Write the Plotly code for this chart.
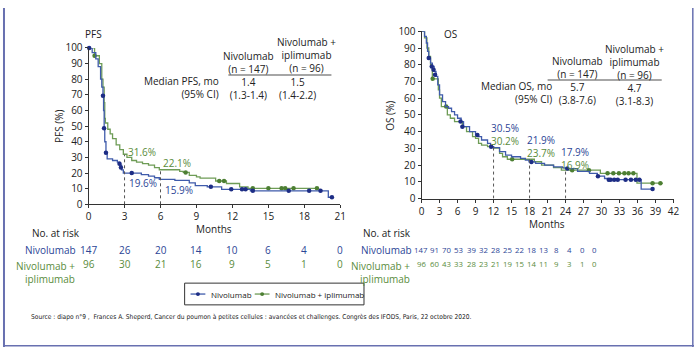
import plotly.graph_objects as go

# ---------------- data ----------------
# PFS, Nivolumab (step curve)
pfs_nivo_t = [0, 0.3, 0.6, 0.8, 1.0, 1.1, 1.2, 1.25, 1.3, 1.35, 1.45, 1.55, 2.0, 2.4, 2.6, 2.75, 2.9, 4.4, 5.0, 5.5, 5.9, 7.2, 8.4, 8.9, 9.9, 11.1, 13.5, 20.0, 20.4]
pfs_nivo_s = [100, 97, 93, 88, 80, 75, 70, 60, 48, 40, 33, 29, 28, 27, 25, 22, 20.0, 19.0, 18.0, 17.0, 15.9, 15.3, 13.7, 12.0, 11.2, 9.6, 8.6, 4.5, 4.5]
pfs_nivo_cens_t = [0.05, 1.2, 1.29, 1.45, 2.58, 2.7, 3.6, 10.2, 11.9, 12.8, 13.1, 13.7, 16.7, 18.4, 19.35, 20.3]
pfs_nivo_cens_s = [100, 69.4, 48.6, 33, 26, 23.5, 20.0, 11.2, 9.6, 9.6, 9.6, 8.6, 8.6, 8.6, 8.6, 4.5]

# PFS, Nivolumab + ipilimumab
pfs_combo_t = [0, 0.5, 0.9, 1.1, 1.2, 1.3, 1.35, 1.4, 1.6, 1.8, 2.0, 2.3, 2.6, 2.9, 3.2, 3.6, 4.0, 4.5, 5.0, 5.5, 5.9, 7.6, 7.9, 8.4, 9.0, 9.3, 10.6, 11.5, 12.6, 13.3, 19.2]
pfs_combo_s = [100, 95, 90, 80, 75, 65, 55, 52, 48, 45, 42, 38, 35, 32, 30, 28, 27, 26, 25, 23.5, 22.1, 21, 20.4, 18.5, 17.5, 16.7, 14.9, 13.3, 11.2, 10.2, 10.2]
pfs_combo_cens_t = [0.5, 8.1, 10.9, 11.3, 13.7, 15.0, 16.1, 16.4, 17.1, 19.05]
pfs_combo_cens_s = [95, 20.4, 14.9, 14.9, 10.2, 10.2, 10.2, 10.2, 10.2, 10.2]

# OS, Nivolumab
os_nivo_t = [0, 0.5, 0.8, 1.0, 1.2, 1.5, 1.8, 2.1, 2.4, 2.7, 3.0, 3.5, 4.0, 4.5, 5.0, 5.5, 6.0, 6.6, 7.0, 8.0, 9.0, 9.5, 10.0, 11.0, 11.5, 12.0, 13.0, 14.0, 15.0, 16.5, 17.3, 17.9, 19.0, 20.5, 22.0, 23.5, 24.0, 26.0, 28.0, 29.3, 30.5, 31.0, 36.6, 38.7]
os_nivo_s = [100, 97, 93, 88, 84, 81, 79, 76, 73, 68, 62, 58, 55, 54, 52, 50, 48, 46, 43, 40, 38, 37, 35, 33, 31, 30.5, 28, 26, 25, 24, 23, 21.9, 21, 20, 19, 18.3, 17.9, 16.3, 15, 13.4, 12, 11.3, 5.7, 5.7]
os_nivo_cens_t = [1.2, 1.7, 2.0, 2.25, 6.5, 6.8, 9.3, 11.6, 18.3, 24.3, 29.4, 31.2, 31.5, 32.1, 32.7, 34.0, 34.9, 35.7, 36.3, 38.5]
os_nivo_cens_s = [84, 79, 77, 74, 46, 43, 38, 31, 21.9, 17.9, 13.4, 11.3, 11.3, 11.3, 11.3, 11.3, 11.3, 11.3, 11.3, 5.7]

# OS, Nivolumab + ipilimumab
os_combo_t = [0, 0.5, 0.9, 1.2, 1.5, 1.8, 2.8, 3.0, 3.3, 4.3, 4.8, 5.5, 6.8, 7.5, 8.5, 9.0, 9.5, 10.0, 11.0, 12.0, 13.0, 13.5, 14.3, 18.8, 20.0, 22.0, 23.3, 29.8, 35.9, 40.2]
os_combo_s = [100, 96, 90, 85, 80, 71.6, 65, 60, 55, 50, 48, 46, 43, 40, 37, 36, 33, 32, 31, 30.2, 27, 25, 23.5, 22, 20, 18.5, 17.0, 15.1, 9.2, 9.2]
os_combo_cens_t = [1.85, 4.1, 15.1, 25.1, 27.9, 31.0, 31.96, 32.9, 33.8, 34.5, 35.3, 38.5, 39.8]
os_combo_cens_s = [71.6, 55, 23.5, 17.0, 17.0, 15.1, 15.1, 15.1, 15.1, 15.1, 15.1, 9.2, 9.2]

# landmarks
pfs_land_t = [3, 6]
pfs_land_nivo = [19.6, 15.9]
pfs_land_combo = [31.6, 22.1]
os_land_t = [12, 18, 24]
os_land_nivo = [30.5, 21.9, 17.9]
os_land_combo = [30.2, 23.7, 16.9]

# numbers at risk
pfs_risk_months = [0, 3, 6, 9, 12, 15, 18, 21]
pfs_risk_nivo = [147, 26, 20, 14, 10, 6, 4, 0]
pfs_risk_combo = [96, 30, 21, 16, 9, 5, 1, 0]
os_risk_nivo = [147, 91, 70, 53, 39, 32, 28, 25, 22, 18, 13, 8, 4, 0, 0]
os_risk_combo = [96, 60, 43, 33, 28, 23, 21, 19, 15, 14, 11, 9, 3, 1, 0]

names = ["Nivolumab", "Nivolumab + iplimumab"]

# ---------------- style ----------------
W, H = 700, 354
FONT = "Open Sans"
BLUE_LINE = "#3f5bab"
BLUE_MK = "#1d2d85"
BLUE_TXT = "#2c4596"
GREEN_LINE = "#6e9c56"
GREEN_MK = "#4d7f33"
GREEN_TXT = "#5a8c3c"
TXT = "#222222"


def px(x):
    return x / W


def py(y):
    return 1 - y / H


fig = go.Figure()


def add_km(t, s, ct, cs, line_col, mk_col, xa, ya):
    fig.add_trace(go.Scatter(x=t, y=s, mode="lines", line=dict(color=line_col, width=1.3, shape="hv"),
                             xaxis=xa, yaxis=ya, showlegend=False, hoverinfo="skip"))
    fig.add_trace(go.Scatter(x=ct, y=cs, mode="markers", marker=dict(color=mk_col, size=4.5),
                             xaxis=xa, yaxis=ya, showlegend=False, hoverinfo="skip", cliponaxis=False))


add_km(pfs_combo_t, pfs_combo_s, pfs_combo_cens_t, pfs_combo_cens_s, GREEN_LINE, GREEN_MK, "x", "y")
add_km(pfs_nivo_t, pfs_nivo_s, pfs_nivo_cens_t, pfs_nivo_cens_s, BLUE_LINE, BLUE_MK, "x", "y")
add_km(os_combo_t, os_combo_s, os_combo_cens_t, os_combo_cens_s, GREEN_LINE, GREEN_MK, "x2", "y2")
add_km(os_nivo_t, os_nivo_s, os_nivo_cens_t, os_nivo_cens_s, BLUE_LINE, BLUE_MK, "x2", "y2")

axis_common = dict(showgrid=False, zeroline=False, showline=True, linecolor="#333333", linewidth=1,
                   ticks="outside", ticklen=3, tickcolor="#333333",
                   tickfont=dict(family=FONT, size=10, color=TXT))

fig.update_layout(
    width=W, height=H, margin=dict(l=0, r=0, t=0, b=0),
    paper_bgcolor="white", plot_bgcolor="white", showlegend=False,
    font=dict(family=FONT, size=10, color=TXT),
    xaxis=dict(domain=[px(86.7), px(341.7)], range=[0, 21], tickvals=list(range(0, 22, 3)), anchor="y", **axis_common),
    yaxis=dict(domain=[py(205), py(41.7)], range=[0, 100], tickvals=list(range(0, 101, 10)), anchor="x", **axis_common),
    xaxis2=dict(domain=[px(424), px(679.3)], range=[0, 42], tickvals=list(range(0, 43, 3)), anchor="y2", **axis_common),
    yaxis2=dict(domain=[py(199), py(24.3)], range=[0, 100], tickvals=list(range(0, 101, 10)), anchor="x2", **axis_common),
)

shapes = []
# dashed landmark lines
for t, a, b in zip(pfs_land_t, pfs_land_nivo, pfs_land_combo):
    shapes.append(dict(type="line", xref="x", yref="y", x0=t, x1=t, y0=0, y1=max(a, b),
                       line=dict(color="#555555", width=1, dash="dot")))
for t, a, b in zip(os_land_t, os_land_nivo, os_land_combo):
    shapes.append(dict(type="line", xref="x2", yref="y2", x0=t, x1=t, y0=0, y1=max(a, b),
                       line=dict(color="#555555", width=1, dash="dot")))
# table rules
shapes.append(dict(type="line", xref="paper", yref="paper", x0=px(228.3), x1=px(332.7), y0=py(70), y1=py(70),
                   line=dict(color="#888888", width=1.5)))
shapes.append(dict(type="line", xref="paper", yref="paper", x0=px(551.7), x1=px(667.3), y0=py(75.3), y1=py(75.3),
                   line=dict(color="#888888", width=1.5)))
# legend box (manual)
shapes.append(dict(type="rect", xref="paper", yref="paper", x0=px(184), x1=px(365.7), y0=py(310), y1=py(287.3),
                   line=dict(color="#333333", width=1), fillcolor="white"))
LEG_Y = 298.7
for (x0, x1, lc, mc) in [(190, 205, BLUE_LINE, BLUE_MK), (255, 270, GREEN_LINE, GREEN_MK)]:
    shapes.append(dict(type="line", xref="paper", yref="paper", x0=px(x0), x1=px(x1), y0=py(LEG_Y), y1=py(LEG_Y),
                       line=dict(color=lc, width=1.3)))
    cx = (x0 + x1) / 2
    shapes.append(dict(type="circle", xref="paper", yref="paper", x0=px(cx - 2), x1=px(cx + 2),
                       y0=py(LEG_Y + 2), y1=py(LEG_Y - 2), line=dict(color=mc, width=0), fillcolor=mc))
# frame
FR = "#6870b0"
shapes.append(dict(type="line", xref="paper", yref="paper", x0=px(1), x1=px(1), y0=0, y1=1, line=dict(color=FR, width=2)))
shapes.append(dict(type="line", xref="paper", yref="paper", x0=px(698.8), x1=px(698.8), y0=0, y1=1, line=dict(color=FR, width=1.5)))
shapes.append(dict(type="line", xref="paper", yref="paper", x0=0, x1=1, y0=py(352.8), y1=py(352.8), line=dict(color=FR, width=1.5)))
fig.update_layout(shapes=shapes)

ann = []


def A(text, x, y, xanchor="center", color=TXT, size=10, xref="paper", yref="paper", angle=0, yanchor="middle", align="center"):
    ann.append(dict(text=text, x=x, y=y, xref=xref, yref=yref, xanchor=xanchor, yanchor=yanchor,
                    showarrow=False, textangle=angle, align=align,
                    font=dict(family=FONT, size=size, color=color)))


def two_col(a, b):
    return f"<span style='color:{BLUE_TXT}'>{a}%</span><br><span style='color:{GREEN_TXT}'>{b}%</span>"


# landmark labels
A(f"{pfs_land_combo[0]}%", 3.15, 33.7, "left", GREEN_TXT, xref="x", yref="y")
A(f"{pfs_land_combo[1]}%", 6.05, 26.5, "left", GREEN_TXT, xref="x", yref="y")
A(f"{pfs_land_nivo[0]}%", 3.2, 13.5, "left", BLUE_TXT, xref="x", yref="y")
A(f"{pfs_land_nivo[1]}%", 6.2, 9.2, "left", BLUE_TXT, xref="x", yref="y")
os_lab_x = [11.2, 17.3, 22.9]
os_lab_mid_y = [38.5, 30.9, 23.8]
for i in range(3):
    A(two_col(os_land_nivo[i], os_land_combo[i]), os_lab_x[i], os_lab_mid_y[i], "left",
      xref="x2", yref="y2", align="left")

# panel titles
A("PFS", px(81.5), py(26.7), "left")
A("OS", px(444.5), py(26.7), "left")
# axis titles
A("PFS (%)", px(56.7), py(123.3), angle=-90)
A("OS (%)", px(392.7), py(113), angle=-90)
A("Months", px(214), py(230.5))
A("Months", px(551.5), py(225.5))

# PFS median table
A("Nivolumab +<br>iplimumab<br>(n = 96)", px(307.3), py(49.5))
A("Nivolumab<br>(n = 147)<br>1.4<br>(1.3-1.4)", px(249.2), py(70))
A("Median PFS, mo<br>(95% CI)", px(220.7), py(83), "right", align="right")
A("1.5<br>(1.4-2.2)", px(298), py(84))

# OS median table
A("Nivolumab +<br>iplimumab<br>(n = 96)<br>4.7<br>(3.1-8.3)", px(639.5), py(69.5))
A("Nivolumab<br>(n = 147)<br>5.7<br>(3.8-7.6)", px(581.5), py(76))
A("Median OS, mo<br>(95% CI)", px(558.3), py(88.7), "right", align="right")

# numbers at risk - PFS
A("No. at risk", px(27), py(235), "left")
A("Nivolumab", px(75.5), py(252.3), "right", BLUE_TXT)
A("Nivolumab +<br>iplimumab", px(74.5), py(260.5), "right", GREEN_TXT, yanchor="top", align="right")
for m, a, b in zip(pfs_risk_months, pfs_risk_nivo, pfs_risk_combo):
    A(str(a), m, py(252.3), color=BLUE_TXT, xref="x")
    A(str(b), m, py(267.3), color=GREEN_TXT, xref="x")

# numbers at risk - OS (compressed columns)
A("No. at risk", px(363), py(235), "left")
A("Nivolumab", px(416.5), py(252.3), "right", BLUE_TXT)
A("Nivolumab +<br>iplimumab", px(414), py(260.5), "right", GREEN_TXT, yanchor="top", align="right")
for i, (a, b) in enumerate(zip(os_risk_nivo, os_risk_combo)):
    if i == 0:
        xx = 423.8
    else:
        xx = 437.5 + 12.2 * (i - 1) + (0.9 * (i - 10) if i > 10 else 0)
    A(str(a), px(xx), py(252.3), color=BLUE_TXT, size=7.8)
    A(str(b), px(xx), py(267.3), color=GREEN_TXT, size=7.8)

# legend texts
A(names[0], px(209), py(LEG_Y), "left", size=8)
A(names[1], px(274), py(LEG_Y), "left", size=8)

# source
A("Source : diapo n°9 ,  Frances A. Sheperd, Cancer du poumon à petites cellules : avancées et challenges. Congrès des IFODS, Paris, 22 octobre 2020.",
  px(26.7), py(322.7), "left", size=6.6)
ann[-1]["font"]["family"] = "Liberation Sans Narrow, DejaVu Sans Condensed, Open Sans"

fig.update_layout(annotations=ann)
fig.write_html("out.html")
